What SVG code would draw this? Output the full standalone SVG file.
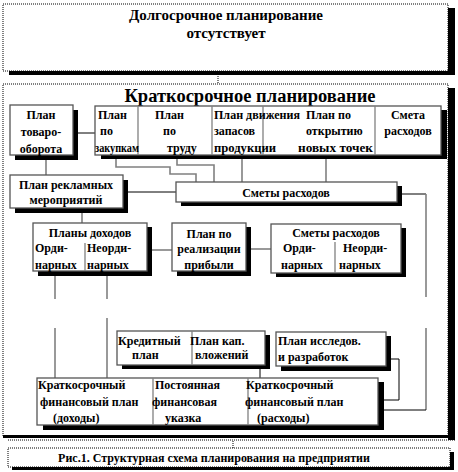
<svg xmlns="http://www.w3.org/2000/svg" width="458" height="472" viewBox="0 0 458 472">
<style>
.bg{fill:#fff}
.box{fill:#fff;stroke:#555;stroke-width:1.3}
.dot{fill:#fff;stroke:#000;stroke-width:1;stroke-dasharray:1 1}
.sh{fill:#000}
.t{font-family:"Liberation Serif","Times New Roman",serif;font-weight:bold;font-size:12px;fill:#000}
.c{text-anchor:middle}
.h1{font-size:15px}
.h2{font-size:18.5px}
.cap{font-size:12px}
.gl{stroke:#808080;stroke-width:1.6;fill:none}
.bl{stroke:#000;stroke-width:1;fill:none}
.dv{stroke:#808080;stroke-width:1.3}
</style>
<rect class="bg" x="0" y="0" width="458" height="472"/>

<g id="long-term">
<rect class="sh" x="9" y="8" width="446" height="67"/>
<rect class="dot" x="3" y="4" width="445" height="67"/>
<text class="t h1 c" x="226" y="20">Долгосрочное планирование</text>
<text class="t h1 c" x="226" y="38">отсутствует</text>
</g>

<g id="short-term">
<rect class="sh" x="448" y="88" width="7" height="352"/>
<rect class="dot" x="3" y="84" width="445" height="352"/>
<rect class="sh" x="3" y="435" width="452" height="3"/>
<line x1="8" y1="440" x2="455" y2="440" stroke="#000" stroke-dasharray="1 1"/>
<text class="t h2 c" x="250" y="102">Краткосрочное планирование</text>
</g>

<g id="caption">
<rect class="sh" x="12" y="452" width="442" height="18"/>
<rect class="dot" x="8" y="448" width="442" height="19"/>
<text class="t cap c" x="214" y="462">Рис.1. Структурная схема планирования на предприятии</text>
</g>

<g id="connectors">
<line class="bl" x1="218" y1="74" x2="218" y2="84" stroke-dasharray="1 1"/>
<line class="bl" x1="233" y1="441" x2="233" y2="448" stroke-dasharray="1 1"/>
<path class="bl" d="M78,133 H95"/>
<path class="gl" d="M46,160 V175"/>
<path class="gl" d="M116,158 V167 H170 V174 H196 V182"/>
<path class="gl" d="M177,158 V165 H214 V182"/>
<path class="gl" d="M242,158 V182"/>
<path class="gl" d="M326,158 V182"/>
<path class="bl" d="M128,192 H176"/>
<path class="bl" d="M402,194 H426"/>
<path class="gl" d="M426,194 V297 M426,328 V410"/>
<path class="bl" d="M384,410 H426"/>
<path class="gl" d="M82,213 V223"/>
<path class="gl" d="M152,250 H172"/>
<path class="gl" d="M251,249 H271"/>
<path class="gl" d="M55,276 V299 M55,328 V378"/>
<path class="gl" d="M107,276 V299 M107,318 V378"/>
<path class="bl" d="M260,369 V378"/>
<path class="bl" d="M391,359 H399 V400 H384"/>
</g>

<g id="trade-plan">
<rect class="sh" x="15" y="110" width="63" height="50"/>
<rect class="box" x="10" y="105" width="63" height="50"/>
<text class="t c" x="41" y="119">План</text>
<text class="t c" x="41" y="136">товаро-</text>
<text class="t c" x="41" y="153">оборота</text>
</g>

<g id="top-row">
<rect class="sh" x="101" y="110" width="346" height="49"/>
<rect class="box" x="95" y="106" width="346" height="49"/>
<line class="dv" x1="138" y1="106" x2="138" y2="155"/>
<line class="dv" x1="212" y1="106" x2="212" y2="155"/>
<line class="dv" x1="263" y1="106" x2="263" y2="155"/>
<line class="dv" x1="375" y1="106" x2="375" y2="155"/>
<text class="t" x="98" y="119">План</text>
<text class="t" x="100" y="135">по</text>
<text class="t" x="95" y="152" textLength="44" lengthAdjust="spacingAndGlyphs">закупкам</text>
<text class="t" x="155" y="119">План</text>
<text class="t" x="163" y="135">по</text>
<text class="t" x="167" y="152">труду</text>
<text class="t" x="214" y="119" textLength="86" lengthAdjust="spacingAndGlyphs">План движения</text>
<text class="t" x="214" y="135">запасов</text>
<text class="t" x="214" y="152" textLength="62" lengthAdjust="spacingAndGlyphs">продукции</text>
<text class="t" x="306" y="119">План по</text>
<text class="t" x="306" y="135">открытию</text>
<text class="t" x="298" y="152" textLength="75" lengthAdjust="spacingAndGlyphs">новых  точек</text>
<text class="t c" x="408" y="119">Смета</text>
<text class="t c" x="408" y="135">расходов</text>
</g>

<g id="ad-plan">
<rect class="sh" x="15" y="180" width="113" height="33"/>
<rect class="box" x="10" y="175" width="113" height="33"/>
<text class="t c" x="66" y="189">План рекламных</text>
<text class="t c" x="66" y="204">мероприятий</text>
</g>

<g id="cost-estimates">
<rect class="sh" x="181" y="186" width="221" height="20"/>
<rect class="box" x="176" y="182" width="221" height="20"/>
<text class="t c" x="286" y="197">Сметы расходов</text>
</g>

<g id="income-plans">
<rect class="sh" x="38" y="227" width="114" height="49"/>
<rect class="box" x="33" y="223" width="114" height="48"/>
<line class="dv" x1="85" y1="243" x2="85" y2="271"/>
<text class="t c" x="90" y="237">Планы доходов</text>
<text class="t" x="35" y="252">Орди-</text>
<text class="t" x="35" y="269">нарных</text>
<text class="t" x="87" y="252">Неорди-</text>
<text class="t" x="87" y="269">нарных</text>
</g>

<g id="profit-plan">
<rect class="sh" x="177" y="227" width="74" height="49"/>
<rect class="box" x="172" y="223" width="74" height="48"/>
<text class="t c" x="209" y="238">План по</text>
<text class="t c" x="209" y="253">реализации</text>
<text class="t c" x="209" y="269">прибыли</text>
</g>

<g id="cost-estimates-2">
<rect class="sh" x="276" y="228" width="130" height="49"/>
<rect class="box" x="271" y="224" width="130" height="49"/>
<line class="dv" x1="335" y1="242" x2="335" y2="273"/>
<text class="t c" x="336" y="237">Сметы расходов</text>
<text class="t" x="283" y="252">Орди-</text>
<text class="t" x="281" y="269">нарных</text>
<text class="t" x="343" y="252">Неорди-</text>
<text class="t" x="339" y="269">нарных</text>
</g>

<g id="credit-capital">
<rect class="sh" x="122" y="335" width="148" height="34"/>
<rect class="box" x="117" y="331" width="148" height="34"/>
<line class="dv" x1="192" y1="331" x2="192" y2="365"/>
<text class="t" x="118" y="345">Кредитный</text>
<text class="t" x="132" y="359">план</text>
<text class="t" x="190" y="345">План кап.</text>
<text class="t" x="195" y="359">вложений</text>
</g>

<g id="research-plan">
<rect class="sh" x="281" y="336" width="110" height="35"/>
<rect class="box" x="276" y="332" width="110" height="34"/>
<text class="t" x="278" y="345">План исследов.</text>
<text class="t" x="278" y="361">и разработок</text>
</g>

<g id="financial-plans">
<rect class="sh" x="43" y="382" width="341" height="48"/>
<rect class="box" x="37" y="378" width="341" height="47"/>
<line class="dv" x1="153" y1="378" x2="153" y2="425"/>
<line class="dv" x1="248" y1="378" x2="248" y2="425"/>
<text class="t" x="38" y="389">Краткосрочный</text>
<text class="t" x="40" y="406">финансовый план</text>
<text class="t" x="53" y="422">(доходы)</text>
<text class="t" x="155" y="389">Постоянная</text>
<text class="t" x="152" y="406">финансовая</text>
<text class="t" x="165" y="422">указка</text>
<text class="t" x="246" y="389">Краткосрочный</text>
<text class="t" x="245" y="406">финансовый план</text>
<text class="t" x="257" y="422">(расходы)</text>
</g>
</svg>
